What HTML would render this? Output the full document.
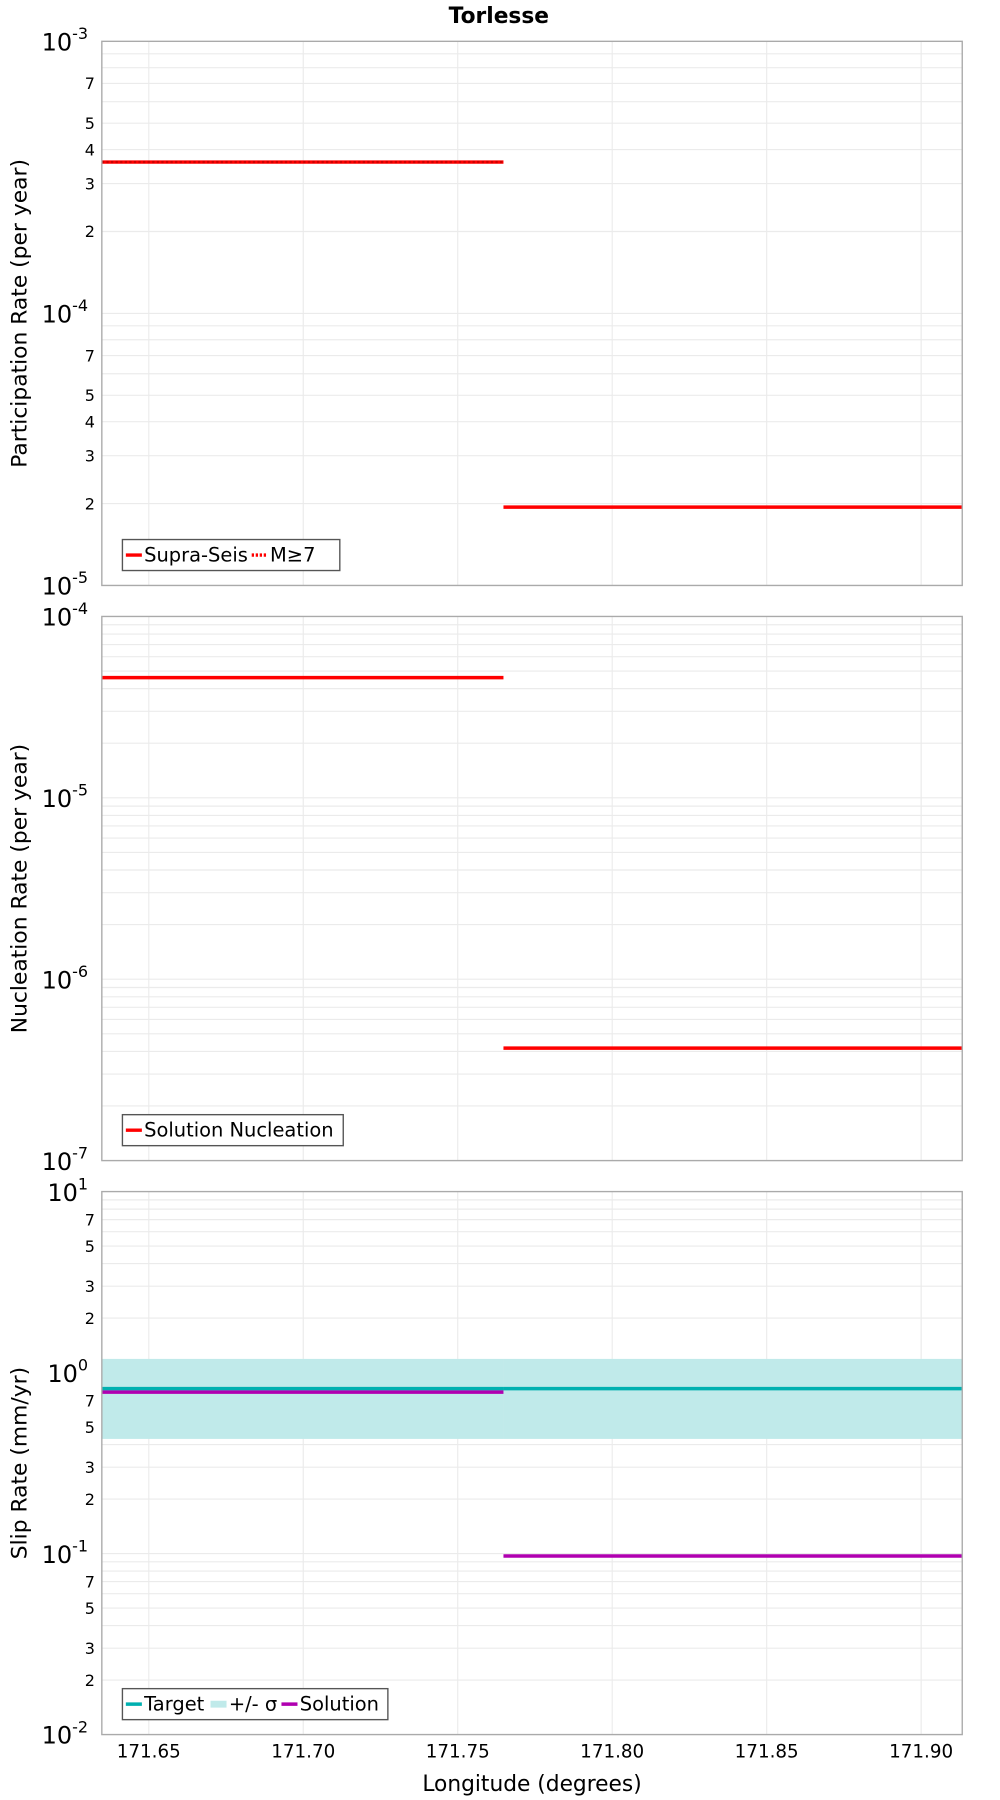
<!DOCTYPE html>
<html><head><meta charset="utf-8"><style>
html,body{margin:0;padding:0;background:#fff}
svg{display:block;font-family:"DejaVu Sans","Liberation Sans",sans-serif}
</style></head><body>
<svg id="chart" width="1000" height="1800" viewBox="0 0 874 1568" preserveAspectRatio="none" xmlns="http://www.w3.org/2000/svg">
<text x="436" y="20" text-anchor="middle" font-size="19" font-weight="bold">Torlesse</text>
<text x="465" y="1560" text-anchor="middle" font-size="19">Longitude (degrees)</text>
</svg>
<script>
const xTicks = [171.65, 171.70, 171.75, 171.80, 171.85, 171.90];
const xTickLabels = ["171.65", "171.70", "171.75", "171.80", "171.85", "171.90"];
const segStarts = [171.6348, 171.7648];
const segEnds = [171.7648, 171.9133];
const partSupra = [3.6e-4, 1.94e-5];
const partM7 = [3.6e-4, 1.94e-5];
const nucSolution = [4.6e-5, 4.17e-7];
const slipTarget = [0.815, 0.815];
const slipUpper = [1.19, 1.19];
const slipLower = [0.43, 0.43];
const slipSolution = [0.78, 0.097];

const NS = "http://www.w3.org/2000/svg";
const svg = document.getElementById('chart');
const X0 = 89, X1 = 841, XMIN = 171.6348, XMAX = 171.9133;
function xs(v){ return X0 + (v - XMIN) / (XMAX - XMIN) * (X1 - X0); }
function mk(tag, attrs, parent){
  const e = document.createElementNS(NS, tag);
  for (const k in attrs) e.setAttribute(k, attrs[k]);
  (parent || svg).appendChild(e);
  return e;
}
const panels = [
  {top:36, bot:510, lo:-5, hi:-3, title:"Participation Rate (per year)", minorLabels:[2,3,4,5,7], name:"participation"},
  {top:537, bot:1011, lo:-7, hi:-4, title:"Nucleation Rate (per year)", minorLabels:[], name:"nucleation"},
  {top:1038, bot:1511, lo:-2, hi:1, title:"Slip Rate (mm/yr)", minorLabels:[2,3,5,7], name:"slip"}
];
function ysFn(p){ return v => p.bot - (Math.log10(v) - p.lo) / (p.hi - p.lo) * (p.bot - p.top); }

panels.forEach((p, pi) => {
  const g = mk('g', {});
  
  
  const ys = ysFn(p);
  for (let d = p.lo; d < p.hi; d++) {
    for (let m = 1; m <= 9; m++) {
      const v = m * Math.pow(10, d);
      const y = ys(v);
      const ln = mk('line', {x1:X0, x2:X1, y1:y, y2:y, stroke:'#ebebeb', 'stroke-width':1}, g);
      
      
      if (m === 1) {
        const t = mk('text', {x:X0 - 12, y:y + 8, 'text-anchor':'end', 'font-size':21}, g);
        
        
        t.textContent = '10';
        const s = mk('tspan', {dy:-10, 'font-size':14}, t);
        s.textContent = String(d);
      } else if (p.minorLabels.indexOf(m) >= 0) {
        const t = mk('text', {x:X0 - 6, y:y + 5, 'text-anchor':'end', 'font-size':14}, g);
        
        
        t.textContent = String(m);
      }
    }
  }
  const yt = ys(Math.pow(10, p.hi));
  const t = mk('text', {x:X0 - 12, y:yt + 8, 'text-anchor':'end', 'font-size':21}, g);
  
  
  t.textContent = '10';
  const s = mk('tspan', {dy:-10, 'font-size':14}, t);
  s.textContent = String(p.hi);
  xTicks.forEach((xv) => {
    const x = xs(xv);
    const ln = mk('line', {x1:x, x2:x, y1:p.top, y2:p.bot, stroke:'#ebebeb', 'stroke-width':1}, g);
    
    
  });
  const ty = (p.top + p.bot) / 2;
  const at = mk('text', {x:0, y:0, transform:`translate(23,${ty}) rotate(-90)`, 'text-anchor':'middle', 'font-size':19}, g);
  
  
  at.textContent = p.title;
  p.g = g; p.ys = ys;
});

function seg(p, vals, color, w, dash, name){
  vals.forEach((v, i) => {
    const y = p.ys(v);
    const a = {x1:xs(segStarts[i]), x2:xs(segEnds[i]), y1:y, y2:y, stroke:color, 'stroke-width':w};
    if (dash) a['stroke-dasharray'] = dash;
    const l = mk('line', a, p.g);
    
    
  });
}
// Panel 1
seg(panels[0], partSupra, '#ff0000', 3, null, 'supra-seis-line');
seg(panels[0].ys ? panels[0] : panels[0], partM7.slice(0,1), '#cc0000', 2, '2,2', 'm7-line');
// Panel 2
seg(panels[1], nucSolution, '#ff0000', 3, null, 'solution-nucleation-line');
// Panel 3 band
slipUpper.forEach((u, i) => {
  const p = panels[2];
  const y1 = p.ys(u), y2 = p.ys(slipLower[i]);
  const r = mk('rect', {x:xs(segStarts[i]), y:y1, width:xs(segEnds[i]) - xs(segStarts[i]), height:y2 - y1, fill:'#c0eaea'}, p.g);
  
  
});
seg(panels[2], slipTarget, '#00b0b0', 3, null, 'target-line');
seg(panels[2], slipSolution, '#b000b0', 3, null, 'solution-line');

panels.forEach(p => {
  const b = mk('rect', {x:X0, y:p.top, width:X1 - X0, height:p.bot - p.top, fill:'none', stroke:'#aaaaaa', 'stroke-width':1.2}, p.g);
  
  
});

// x tick labels
xTicks.forEach((xv, i) => {
  const t = mk('text', {x:xs(xv), y:1531, 'text-anchor':'middle', 'font-size':16});
  
  
  t.textContent = xTickLabels[i];
});

// legends
function legend(y, w, items, name){
  const g = mk('g', {});
  
  
  const r = mk('rect', {x:107, y:y, width:w, height:27, fill:'#fff', stroke:'#555', 'stroke-width':1.2}, g);
  
  
  let x = 110;
  items.forEach(it => {
    const a = {x1:x, x2:x + 14, y1:y + 13.5, y2:y + 13.5, stroke:it.c, 'stroke-width':it.band ? 6 : 3};
    if (it.dash) a['stroke-dasharray'] = '2,1.5';
    const l = mk('line', a, g);
    
    
    const t = mk('text', {x:x + 16, y:y + 19, 'font-size':17}, g);
    
    
    t.textContent = it.t;
    x += 16 + it.w;
  });
}
legend(470, 190, [{c:'#ff0000', t:'Supra-Seis', w:94}, {c:'#ff0000', t:'M≥7', dash:true, w:45}], 'participation-legend');
legend(971, 193, [{c:'#ff0000', t:'Solution Nucleation', w:170}], 'nucleation-legend');
legend(1471, 232, [{c:'#00b0b0', t:'Target', w:58}, {c:'#c0eaea', t:'+/- σ', band:true, w:46}, {c:'#b000b0', t:'Solution', w:80}], 'slip-legend');
</script>
</body></html>
